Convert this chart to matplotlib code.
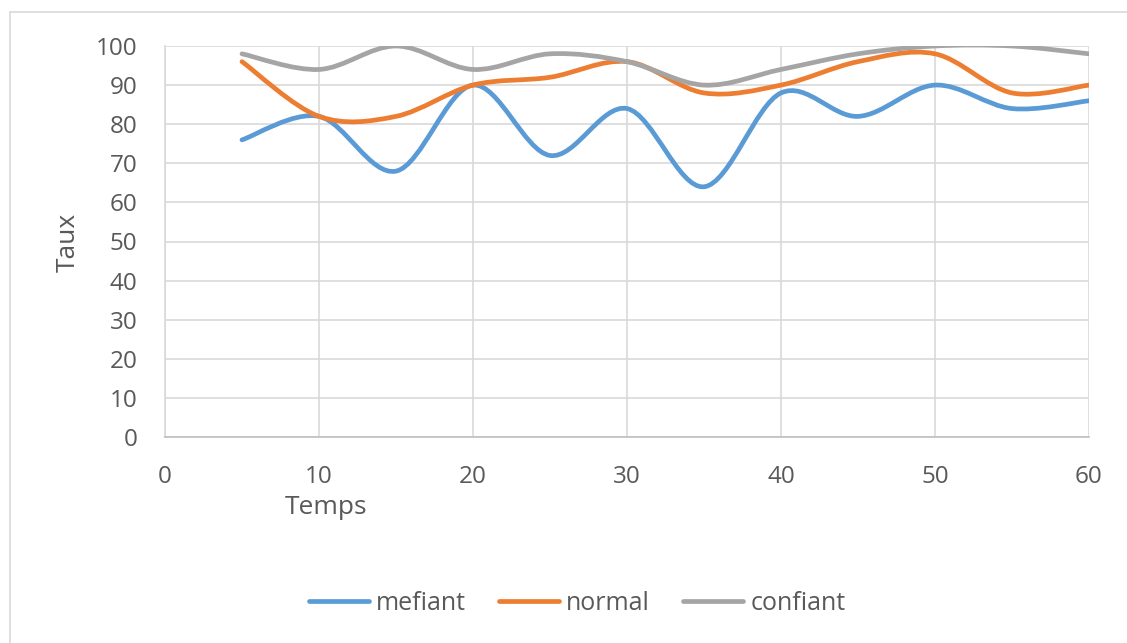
import numpy as np
import matplotlib.pyplot as plt
from matplotlib.path import Path
from matplotlib.patches import PathPatch, Rectangle
from matplotlib.lines import Line2D

plt.rcParams['font.family'] = ['Open Sans', 'DejaVu Sans']

temps = [5, 10, 15, 20, 25, 30, 35, 40, 45, 50, 55, 60]
mefiant = [76, 82, 68, 90, 72, 84, 64, 88, 82, 90, 84, 86]
normal = [96, 82, 82, 90, 92, 96, 88, 90, 96, 98, 88, 90]
confiant = [98, 94, 100, 94, 98, 96, 90, 94, 98, 100, 100, 98]

series = [("mefiant", mefiant, "#5B9BD5"),
          ("normal", normal, "#ED7D31"),
          ("confiant", confiant, "#A5A5A5")]


def smooth_path(x, y):
    # excel style smoothed line (bezier through each point)
    p = np.column_stack([x, y]).astype(float)
    n = len(p)
    verts = [p[0]]
    codes = [Path.MOVETO]
    for i in range(n - 1):
        p0 = p[i - 1] if i > 0 else p[i]
        p1 = p[i]
        p2 = p[i + 1]
        p3 = p[i + 2] if i + 2 < n else p[i + 1]
        c1 = p1 + (p2 - p0) / 6.0
        c2 = p2 - (p3 - p1) / 6.0
        verts += [c1, c2, p2]
        codes += [Path.CURVE4] * 3
    return Path(verts, codes)


fig = plt.figure(figsize=(11.27, 6.43), dpi=100)
W, H = 1127, 643
ax = fig.add_axes([165 / W, 1 - 437 / H, (1089 - 165) / W, (437 - 46) / H])

# chart border
fig.patches.append(Rectangle((10 / W, -0.1), 1.2, 1 - 12 / H + 0.1,
                             transform=fig.transFigure, fill=False,
                             edgecolor="#D9D9D9", linewidth=1.2))

for name, vals, col in series:
    patch = PathPatch(smooth_path(temps, vals), facecolor="none", edgecolor=col,
                      linewidth=3.4, capstyle="round", joinstyle="round", zorder=3)
    ax.add_patch(patch)

ax.set_xlim(0, 60)
ax.set_ylim(0, 100)
ax.set_xticks(range(0, 61, 10))
ax.set_yticks(range(0, 101, 10))
ax.grid(True, color="#D9D9D9", linewidth=1.2)
ax.set_axisbelow(True)
for s in ["top", "right"]:
    ax.spines[s].set_visible(False)
ax.spines["left"].set_color("#D9D9D9")
ax.spines["bottom"].set_color("#BFBFBF")
ax.spines["left"].set_linewidth(1.2)
ax.spines["bottom"].set_linewidth(1.2)
ax.tick_params(length=0, labelsize=17.5, labelcolor="#595959", pad=20)
ax.tick_params(axis="x", pad=20)

fig.text(68 / W, 1 - 242 / H, "Taux", rotation=90, ha="center", va="center",
         fontsize=19, color="#595959")
fig.text(326 / W, 1 - 508 / H, "Temps", ha="center", va="center",
         fontsize=19, color="#595959")

handles = [Line2D([], [], color=c, linewidth=3.4, solid_capstyle="round") for _, _, c in series]
fig.legend(handles, [n for n, _, _ in series], loc="center",
           bbox_to_anchor=(577 / W, 1 - 603 / H), ncol=3, frameon=False,
           fontsize=18, labelcolor="#595959", handlelength=2.4,
           handletextpad=0.3, columnspacing=1.3)

fig.savefig("out.png", dpi=100)
